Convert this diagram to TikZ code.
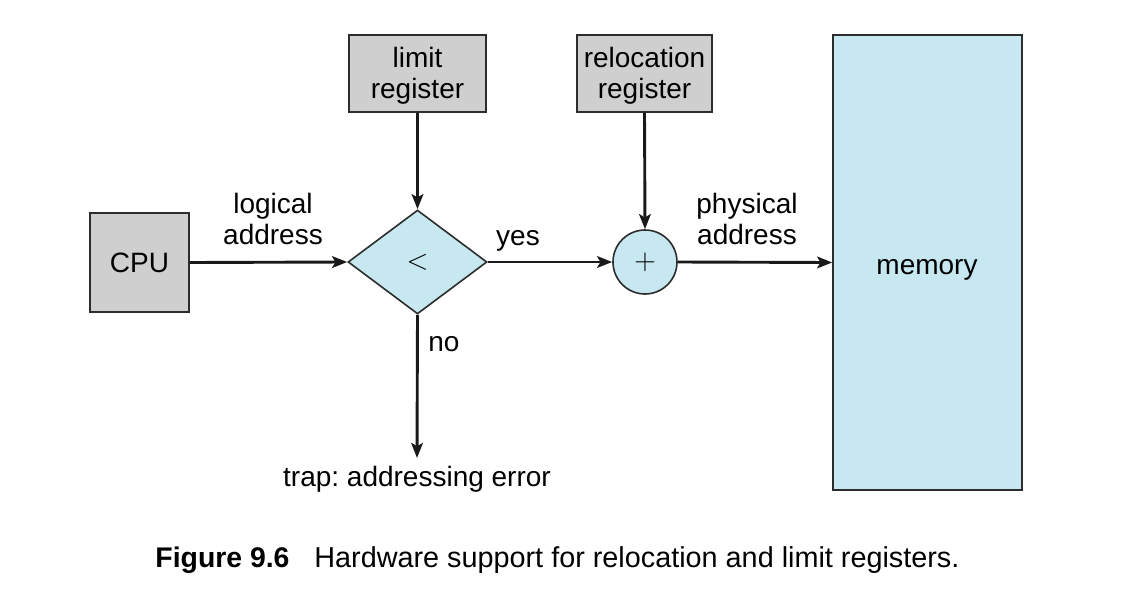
\documentclass[tikz,border=0pt]{standalone}
\usepackage{fontspec}
\setmainfont{Liberation Sans}
\usetikzlibrary{shapes.geometric,arrows.meta}
\definecolor{boxgray}{RGB}{207,207,207}
\definecolor{boxblue}{RGB}{199,231,241}
\definecolor{edge}{RGB}{45,45,45}
\frenchspacing
\newcommand{\twoline}[2]{\raisebox{-1.6pt}[\height][\depth]{\begin{tabular}{@{}c@{}}#1\\#2\end{tabular}}}
\begin{document}
\begin{tikzpicture}[x=0.5pt,y=-0.5pt,
  every node/.style={font=\fontsize{14pt}{15.5pt}\selectfont, text=black},
  graybox/.style={draw=edge, line width=0.8pt, fill=boxgray, inner sep=0pt, align=center},
  bluebox/.style={draw=edge, line width=0.8pt, fill=boxblue, inner sep=0pt},
  lbl/.style={inner sep=0pt, align=center},
  conn/.style={draw=black!90, line width=1.45pt, -{Stealth[length=7.5pt,width=5.8pt,inset=1.6pt]}}
]
\useasboundingbox (0,0) rectangle (1130,594);
% nodes
\node[graybox, minimum width=49.5pt, minimum height=49.5pt] (cpu) at (139.5,262.5) {CPU};
\node[graybox, minimum width=68.5pt, minimum height=38.5pt] (limit) at (417.5,73.5) {\twoline{limit}{register}};
\node[graybox, minimum width=67.5pt, minimum height=38.5pt] (reloc) at (644.5,73.5) {\twoline{relocation}{register}};
\node[bluebox, shape=diamond, minimum width=69.5pt, minimum height=52pt] (cmp) at (417.5,262) {$<$};
\node[bluebox, shape=circle, minimum size=32pt] (add) at (645,262) {$+$};
\node[bluebox, minimum width=94.5pt, minimum height=227.5pt] (mem) at (927.5,262.5) {};
\node[lbl] at (927,270) {memory};
\node[lbl, anchor=north] (trap) at (417,466) {trap: addressing error};
% labels
\node[lbl] (logical) at (273,219) {logical\\address};
\node[lbl] (physical) at (747,219) {physical\\address};
\node[lbl] (yes) at (518,241) {yes};
\node[lbl] (no) at (444,344) {no};
% connectors
\draw[conn] (cpu.east) -- (cmp.west);
\draw[conn] (limit.south) -- (cmp.north);
\draw[conn] (cmp.east) -- (add.west);
\draw[conn] (reloc.south) -- (add.north);
\draw[conn] (add.east) -- (mem.west);
\draw[conn] (cmp.south) -- ([yshift=4pt]trap.north);
% caption
\node[anchor=base west, inner sep=0pt, font=\fontsize{14.2pt}{16pt}\selectfont\bfseries] (fig) at (155,567) {Figure 9.6};
\node[anchor=base west, inner sep=0pt, font=\fontsize{14.4pt}{16pt}\selectfont] (cap) at (314,567) {Hardware support for relocation and limit registers.};
\end{tikzpicture}
\end{document}
